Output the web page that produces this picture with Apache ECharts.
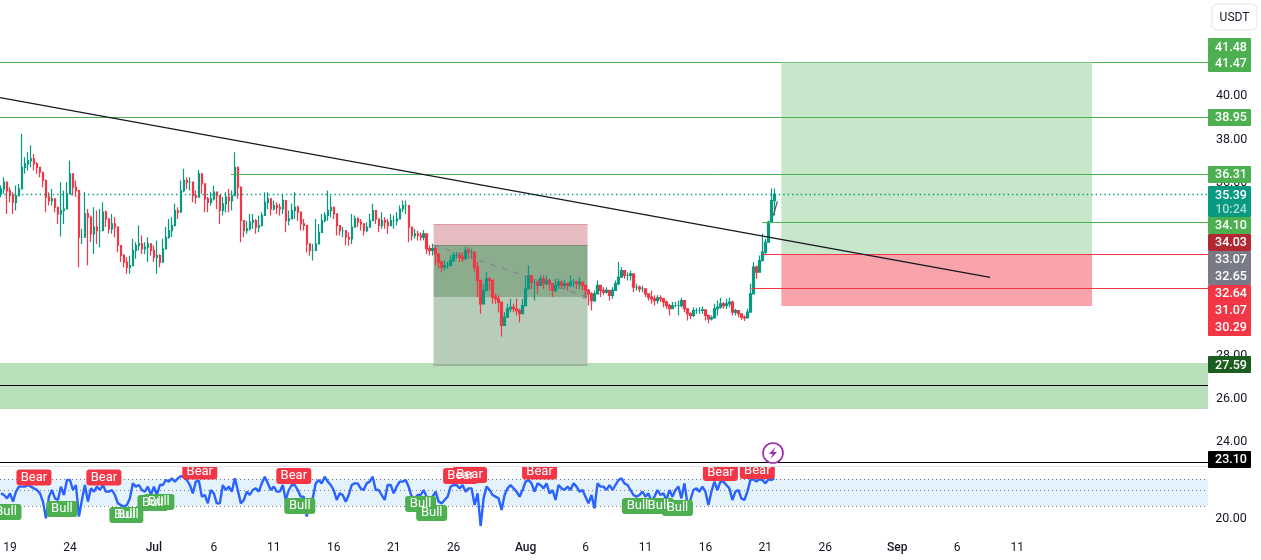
<!DOCTYPE html>
<html><head><meta charset="utf-8">
<style>html,body{margin:0;padding:0;background:#fff}#c{width:1261px;height:560px}</style>
<script src="https://cdn.jsdelivr.net/npm/echarts@6/dist/echarts.min.js"></script></head>
<body><div id="c"></div>
<script>
const closes=[35.63,35.94,35.55,35.32,35.01,35.32,35.63,36.63,36.79,36.94,37.02,36.79,36.63,36.40,36.02,35.25,35.09,35.17,34.78,34.47,
34.63,34.70,35.40,36.33,35.71,35.55,33.39,33.39,34.47,34.32,33.55,33.86,33.70,33.70,34.55,34.24,33.78,34.01,33.86,33.01,
32.54,32.24,32.00,32.08,32.78,33.01,33.08,32.85,32.93,33.08,32.78,32.47,32.54,32.24,32.85,33.39,33.70,33.93,34.63,34.55,
35.55,36.02,35.94,35.94,35.32,35.25,36.33,35.86,35.17,35.01,35.17,35.48,35.32,34.63,34.94,35.25,35.09,35.32,36.63,35.71,
34.16,33.70,33.78,34.09,34.16,33.86,33.93,34.40,35.01,35.17,34.70,34.86,34.78,34.70,35.09,34.16,34.24,34.63,34.78,34.55,
34.01,33.93,33.08,32.78,32.78,33.08,33.62,34.16,34.40,34.63,34.78,34.47,33.93,33.70,33.70,33.39,33.32,33.86,34.24,34.09,
34.01,33.70,33.86,34.16,34.63,34.24,33.93,34.16,34.09,33.93,34.16,34.16,34.24,34.70,34.86,34.86,33.86,33.47,33.55,33.47,33.39,
33.55,32.86,32.78,32.86,32.62,32.24,32.01,32.08,32.08,32.31,32.55,32.55,32.47,32.39,32.78,32.70,32.70,32.01,31.39,30.31,
30.93,31.47,31.39,30.62,30.54,30.39,29.31,29.69,30.08,30.15,30.08,30.00,29.85,30.23,31.00,31.62,31.31,31.31,31.16,31.47,
31.24,31.39,31.24,30.93,31.16,31.31,31.16,31.24,31.16,31.31,31.31,31.24,31.31,31.16,30.93,30.77,30.46,30.77,31.16,30.93,
30.85,30.93,30.70,30.93,31.24,31.54,31.85,31.62,31.62,31.70,31.08,31.08,31.00,31.00,30.77,30.62,30.54,30.46,30.59,30.54,
30.39,30.23,30.08,30.23,30.23,30.23,30.46,30.08,29.85,29.77,30.00,30.00,30.00,30.03,29.77,29.61,29.66,30.08,30.15,30.31,
30.23,30.31,30.39,29.92,30.00,29.85,29.69,29.66,29.92,30.77,32.01,31.77,32.31,32.70,33.16,34.09,35.09,35.39];
const opens=[35.40,35.63,35.94,35.55,35.32,35.01,35.32,35.63,36.63,36.79,36.94,37.02,36.79,36.63,36.40,36.02,35.25,35.09,35.17,34.78,
34.47,34.63,34.70,35.40,36.33,35.71,35.55,33.39,33.39,34.47,34.32,33.55,33.86,33.70,33.70,34.55,34.24,33.78,34.01,33.86,
33.01,32.54,32.24,32.00,32.08,32.78,33.01,33.08,32.85,32.93,33.08,32.78,32.47,32.54,32.24,32.85,33.39,33.70,33.93,34.63,
34.55,35.55,36.02,35.94,35.94,35.32,35.25,36.33,35.86,35.17,35.01,35.17,35.48,35.32,34.63,34.94,35.25,35.09,35.32,36.63,
35.71,34.16,33.70,33.78,34.09,34.16,33.86,33.93,34.40,35.01,35.17,34.70,34.86,34.78,34.70,35.09,34.16,34.24,34.63,34.78,
34.55,34.01,33.93,33.08,32.78,32.78,33.08,33.62,34.16,34.40,34.63,34.78,34.47,33.93,33.70,33.70,33.39,33.32,33.86,34.24,
34.09,34.01,33.70,33.86,34.16,34.63,34.24,33.93,34.16,34.09,33.93,34.16,34.16,34.24,34.70,34.86,34.86,33.86,33.47,33.55,33.47,
33.39,33.55,32.86,32.78,32.86,32.62,32.24,32.01,32.08,32.08,32.31,32.55,32.55,32.47,32.39,32.78,32.70,32.70,32.01,31.39,
30.31,30.93,31.47,31.39,30.62,30.54,30.39,29.31,29.69,30.08,30.15,30.08,30.00,29.85,30.23,31.00,31.62,31.31,31.31,31.16,
31.47,31.24,31.39,31.24,30.93,31.16,31.31,31.16,31.24,31.16,31.31,31.31,31.24,31.31,31.16,30.93,30.77,30.46,30.77,31.16,
30.93,30.85,30.93,30.70,30.93,31.24,31.54,31.85,31.62,31.62,31.70,31.08,31.08,31.00,31.00,30.77,30.62,30.54,30.46,30.59,
30.54,30.39,30.23,30.08,30.23,30.23,30.23,30.46,30.08,29.85,29.77,30.00,30.00,30.00,30.03,29.77,29.61,29.66,30.08,30.15,
30.31,30.23,30.31,30.39,29.92,30.00,29.85,29.69,29.66,29.92,30.77,32.01,31.77,32.31,32.70,33.16,34.09,35.09];
const highs=[35.79,36.17,35.86,35.71,35.48,35.79,35.86,38.18,37.10,37.33,37.64,37.25,36.87,36.63,36.33,35.86,35.48,35.63,35.17,34.78,
35.94,35.55,35.94,36.94,35.94,36.02,33.78,33.78,35.48,34.70,34.40,34.78,34.63,34.70,35.01,34.63,34.24,34.47,34.32,33.39,
32.93,32.62,32.47,32.54,33.32,33.16,33.93,33.47,33.16,33.39,33.08,33.01,33.24,32.62,33.32,33.86,34.24,34.32,34.94,34.78,
36.02,36.56,36.17,36.17,35.79,35.55,36.51,36.09,35.55,35.25,35.48,35.79,35.48,35.25,35.25,35.48,35.63,35.55,37.33,36.09,
34.40,34.16,34.16,34.47,34.47,34.24,34.40,34.55,35.48,35.48,35.01,35.09,35.01,34.94,35.40,34.94,34.63,34.94,35.48,34.86,
34.24,34.24,33.55,33.08,33.08,34.24,34.01,34.47,34.55,35.55,35.32,34.63,34.24,33.93,33.86,33.70,33.62,34.47,34.40,34.32,
34.24,33.93,34.09,34.47,34.94,34.55,34.24,34.55,34.32,34.24,34.47,34.40,34.55,34.86,35.09,35.09,34.70,33.70,33.78,33.70,33.62,
33.73,33.40,33.01,33.09,33.01,32.55,32.31,32.31,32.24,32.55,32.70,32.70,32.70,32.70,32.96,32.93,32.86,32.31,32.24,30.77,
31.24,31.77,31.54,31.00,30.77,30.70,29.77,29.92,30.31,30.54,30.31,30.54,30.08,30.54,31.62,32.08,31.54,31.47,31.39,31.62,
31.62,31.62,31.47,31.16,31.47,31.47,31.39,31.42,31.31,31.62,31.47,31.39,31.54,31.31,31.16,31.00,30.85,30.93,31.39,31.16,
31.08,31.08,30.93,31.08,31.39,32.24,32.01,31.85,31.77,31.85,31.47,31.24,31.16,31.16,30.93,30.77,30.93,30.70,30.70,30.70,
30.59,30.46,30.31,30.39,30.39,30.46,30.59,30.46,30.08,29.92,30.15,30.12,30.15,30.19,29.92,29.72,29.77,30.31,30.46,30.59,
30.39,30.54,30.59,30.46,30.08,30.00,29.77,29.77,30.08,31.24,32.24,32.08,32.55,33.55,33.32,34.17,35.65,35.65];
const lows=[35.25,35.40,34.47,35.01,34.47,34.63,35.32,36.02,36.33,36.48,36.63,36.48,36.33,36.17,35.71,34.55,34.86,34.86,34.55,34.01,
33.42,34.01,34.94,35.86,35.32,35.25,32.00,33.08,33.70,32.08,33.16,32.62,33.08,32.93,34.16,33.86,33.55,33.55,33.39,32.70,
32.24,32.00,31.70,31.70,32.47,32.39,32.78,32.62,32.62,32.24,32.54,32.24,31.70,32.00,32.54,32.93,33.32,33.39,34.09,34.24,
35.01,35.48,35.63,35.55,35.01,34.94,35.79,35.40,34.55,34.55,34.86,35.09,34.70,34.01,34.40,34.55,34.55,34.63,35.86,35.17,
33.16,33.39,33.55,33.70,33.78,33.55,33.62,34.01,34.47,34.70,34.40,34.63,34.47,34.40,34.47,33.62,33.93,34.24,34.24,34.16,
33.70,33.70,32.70,32.54,32.31,32.85,33.32,33.78,34.09,34.16,34.32,34.24,33.47,33.47,33.39,33.01,33.01,33.08,33.93,33.86,
33.70,33.47,33.62,33.86,34.24,34.01,33.62,33.78,33.78,33.55,33.93,33.78,33.93,34.24,34.55,34.47,33.16,33.24,33.32,33.24,33.24,
33.24,32.62,32.55,32.55,32.08,31.93,31.77,31.85,31.93,32.08,32.24,32.39,32.24,32.24,32.39,32.39,32.39,31.77,30.62,29.85,
30.54,31.16,30.93,30.31,30.31,29.92,28.80,29.31,29.77,29.92,29.92,29.77,29.46,29.92,30.54,31.31,31.00,30.46,30.77,31.16,
31.00,31.16,30.93,30.62,30.85,31.00,31.00,31.00,30.93,31.08,31.08,31.00,31.00,30.93,30.54,30.23,30.00,30.39,30.85,30.62,
30.70,30.77,30.46,30.54,31.00,31.16,31.62,31.47,31.39,31.39,30.85,30.93,30.85,30.85,30.62,30.46,30.31,30.23,30.31,30.39,
30.15,30.08,29.77,30.08,30.15,29.77,30.15,29.92,29.54,29.61,29.69,29.85,29.85,29.85,29.54,29.41,29.54,29.92,29.77,30.08,
30.08,30.08,30.15,29.77,29.77,29.69,29.57,29.51,29.69,30.15,31.24,31.47,31.77,32.62,32.62,33.16,34.07,34.40];
const oscillator=[51.3,48,41.3,51.3,34.7,54.7,64.7,64.7,64.7,68,64.7,61.3,58,51.3,34.7,1.3,44.7,58,41.3,38,
64.7,48,78,78,58,68,4.7,38,68,34.7,61.3,54.7,64.7,58,68,54.7,54.7,58,48,31.3,
28,24.7,28,41.3,71.3,64.7,68,58,54.7,64.7,48,64.7,48,68,68,78,74.7,81.3,74.7,81.3,
86,83.3,78,68,51.3,74.7,76.7,44.7,48,31.3,58,51.3,31.3,31.3,68,58,64.7,54.7,81.3,58,
31.3,38,54.7,48,58,61.3,54.7,71.3,84.7,71.3,58,64.7,54.7,54.7,68,38,58,68,68,58,
44.7,44.7,4.7,38,41.3,71.3,78,71.3,84.7,74.7,68,58,38,51.3,48,34.7,48,68,71.3,71.3,
61.3,58,71.3,74.7,84.7,58,58,48,38,68,68,51.3,64.7,74.7,
74.7,78,64.7,44.7,41.3,48,48,58,44.7,41.3,44.7,54.7,34.7,31.3,38,44.7,64.7,68,68,61.3,
68,54.7,61.3,61.3,28,51.3,-14,41.3,64.7,58,48,44.7,41.3,18,48,61.3,68,61.3,54.7,44.7,
58,74.7,78,71.3,54.7,71.3,68,61.3,71.3,51.3,58,38,68,61.3,58,64.7,58,71.3,64.7,54.7,
58,44.7,31.3,48,21.3,71.3,64.7,64.7,58,68,58,68,78,81.3,71.3,68,58,48,44.7,48,
54.7,44.7,51.3,34.7,44.7,58,48,51.3,38,58,44.7,58,64.7,41.3,71.3,31.3,38,58,61.3,54.7,
64.7,54.7,28,54.7,74.7,58,74.7,74.7,68,61.3,38,54.7,58,41.3,38,54.7,78,79.3,74.7,79.3,
78,71.3,79.3,78,81.3];
const bearDays=[-10,-4.17,3.83,11.67,25.58,26.33,32.17,47.25,50.33];
const bearVals=[83,83,95,86,86,88,95,92,96];
const bullDays=[-12.33,-7.67,-2.42,-2.17,-0.08,0.42,12.17,22.25,23.17,40.33,42.08,43.67];
const bullVals=[14,20,8,8,32,34,26,30,12,26,26,22];
const tickDays=[-12,-7,0,5,10,15,20,25,31,36,41,46,51,56,62,67,72];
const tickNames=['19','24','Jul','6','11','16','21','26','Aug','6','11','16','21','26','Sep','6','11'];
const priceTicks=[24,26,28,36,38,40];
const tagTexts=['41.48','41.47','38.95','36.31','35.39','10:24','34.10','34.03','33.07','32.65','32.64','31.07','30.29','27.59','23.10'];

const FONT='Roboto, "Liberation Sans", sans-serif';
const DAY0=-12.75, DAYN=87.917, START=DAY0;
const AXMIN=DAY0-1/12;
const candleData=closes.map((c,i)=>[START+i*0.25,opens[i],c,lows[i],highs[i]]);
const oscData=oscillator.map((v,i)=>[START+i*0.25,v]);
const area=(x1,x2,y1,y2,color)=>[{xAxis:x1,yAxis:y1,itemStyle:{color:color,borderWidth:0,opacity:1}},{xAxis:x2,yAxis:y2}];
const seg=(x1,y1,x2,y2,color,width,type,op)=>[{coord:[x1,y1],lineStyle:{color:color,width:width,type:type||'solid',opacity:op||1}},{coord:[x2,y2]}];

const GREEN='#4caf50',RED='#f23645',INK='#131722';

// right-hand price tags: slot centres (pixels of the axis column)
const tagCenters=[47.5,63.5,117.5,174.5,195.5,209.5,226,243,260,277,294,311,328,365.5,459.5];
const tagBlocks=[[38,34,GREEN],[109,17,GREEN],[166,17,GREEN],[186,31,'#089981'],[217,17,GREEN],[234,17,'#b22833'],[251,34,'#787b86'],[285,51,RED],[356,17,'#1b5e20'],[451,17,'#000000']];
const graphics=[];
tagBlocks.forEach(b=>graphics.push({type:'rect',z:100,shape:{x:1208,y:b[0],width:43,height:b[1],r:1},style:{fill:b[2]}}));
tagTexts.forEach((t,i)=>graphics.push({type:'text',z:101,x:1231,y:tagCenters[i],style:{text:t,font:'500 12.5px '+FONT,fill:t==='10:24'?'rgba(255,255,255,0.65)':'#fff',textAlign:'center',textVerticalAlign:'middle'}}));
graphics.push({type:'text',z:101,x:1231,y:519,style:{text:'20.00',font:'12.5px '+FONT,fill:INK,textAlign:'center',textVerticalAlign:'middle'}});
graphics.push({type:'rect',z:101,shape:{x:1212,y:4,width:45,height:26,r:5},style:{fill:'#fff',stroke:'#e0e3eb',lineWidth:1}});
graphics.push({type:'text',z:102,x:1234.5,y:18,style:{text:'USDT',font:'12px '+FONT,fill:INK,textAlign:'center',textVerticalAlign:'middle'}});
graphics.push({type:'rect',z:90,shape:{x:0,y:463,width:1208,height:3.5},style:{fill:'#fff'}});
graphics.push({type:'line',z:91,shape:{x1:0,y1:466.5,x2:1208,y2:466.5},style:{stroke:'#e0e3eb',lineWidth:1}});
graphics.push({type:'circle',z:95,shape:{cx:773,cy:453,r:10},style:{fill:'#fff',stroke:'#9c27b0',lineWidth:1.6}});
graphics.push({type:'polygon',z:96,shape:{points:[[775.5,447],[769,454],[772.7,454],[770.5,459],[777,452],[773.3,452]]},style:{fill:'#9c27b0'}});

// bubble plates sit under a separate text-only layer so overlapping words stay visible
const plate=(text,color,w)=>({show:true,position:'inside',formatter:text,color:'rgba(0,0,0,0)',fontFamily:FONT,fontSize:13,backgroundColor:color,borderRadius:3,width:w,height:16,lineHeight:16,align:'center',verticalAlign:'middle'});
const word=(text)=>({show:true,position:'inside',formatter:text,color:'#fff',fontFamily:FONT,fontSize:13,lineHeight:16,align:'center',verticalAlign:'middle'});
const marks=(name,days,vals,z,label)=>({type:'scatter',name:name,xAxisIndex:1,yAxisIndex:1,z:z,symbolSize:1,clip:false,
  data:days.map((d,i)=>[d,vals[i]]),itemStyle:{color:'rgba(0,0,0,0)',opacity:1},label:label});

const option={
 animation:false,backgroundColor:'#fff',
 grid:[{left:-1,right:53,top:0,bottom:25},{left:-1,right:53,top:460,height:70}],
 xAxis:[
  {type:'value',gridIndex:0,min:AXMIN,max:DAYN,splitLine:{show:false},axisLine:{show:false},axisTick:{show:false},
   axisLabel:{show:true,margin:7,customValues:tickDays,fontFamily:FONT,fontSize:12,color:INK,
     formatter:v=>{const n=tickNames[tickDays.indexOf(v)];return /[A-Z]/.test(n)?'{b|'+n+'}':n;},
     rich:{b:{fontFamily:FONT,fontSize:12,fontWeight:500,color:INK}}}},
  {type:'value',gridIndex:1,min:AXMIN,max:DAYN,show:false}
 ],
 yAxis:[
  {type:'value',gridIndex:0,position:'right',min:19.606,max:44.375,splitLine:{show:false},axisLine:{show:false},axisTick:{show:false},
   axisLabel:{customValues:priceTicks,margin:8,verticalAlign:'top',lineHeight:3.5,fontFamily:FONT,fontSize:12.5,color:INK,formatter:v=>v.toFixed(2)}},
  {type:'value',gridIndex:1,min:-22,max:118,show:false}
 ],
 graphic:graphics,
 series:[
  {type:'line',xAxisIndex:0,yAxisIndex:0,z:1,data:[],silent:true,
   markArea:{silent:true,data:[
    area(AXMIN,DAYN,27.57,25.44,'#b9dfba'),
    area(52.33,78.25,41.50,32.62,'#c8e6c9'),
    area(52.33,78.25,32.62,30.21,'#f9a3aa'),
    area(23.33,36.17,34.00,33.03,'#e6bcc1'),
    area(23.33,36.17,33.03,30.62,'#8bad8e'),
    area(23.33,36.17,30.62,27.48,'#b7ccb9')
   ]}},
  {type:'line',xAxisIndex:1,yAxisIndex:1,z:1,data:[],silent:true,
   markArea:{silent:true,data:[area(AXMIN,DAYN,80,26,'#e3f2fd')]},
   markLine:{silent:true,symbol:'none',label:{show:false},data:[
    seg(AXMIN,80,DAYN,80,'#787b86',1,[1,3]),seg(AXMIN,58,DAYN,58,'#787b86',1,[1,3]),seg(AXMIN,26,DAYN,26,'#787b86',1,[1,3])]}},
  {type:'candlestick',name:'Price',xAxisIndex:0,yAxisIndex:0,z:3,barWidth:1.8,clip:true,data:candleData,
   itemStyle:{color:'#089981',color0:RED,borderColor:'#089981',borderColor0:RED,borderWidth:1.2}},
  {type:'line',xAxisIndex:0,yAxisIndex:0,z:4,data:[],silent:true,
   markLine:{silent:true,symbol:'none',label:{show:false},data:[
    seg(AXMIN,41.47,DAYN,41.47,GREEN,1),
    seg(AXMIN,38.95,DAYN,38.95,GREEN,1),
    seg(6.42,36.31,DAYN,36.31,GREEN,1),
    seg(AXMIN,35.39,DAYN,35.39,'#089981',1.4,[1.4,3]),
    seg(50.75,34.10,DAYN,34.10,GREEN,1),
    seg(50.75,32.62,DAYN,32.62,RED,1),
    seg(49.83,31.04,DAYN,31.04,RED,1),
    seg(AXMIN,26.55,DAYN,26.55,'#000',1),
    seg(AXMIN,22.99,DAYN,22.99,'#000',1.2),
    seg(23.33,34.00,36.17,34.00,'#dc9aa3',1),
    seg(23.33,33.03,36.17,33.03,'#7f8d7f',1),
    seg(23.33,27.48,36.17,27.48,'#8fae8f',1.5),
    seg(52.33,41.50,78.25,41.50,'#81c784',1),
    seg(AXMIN,39.86,69.75,31.53,INK,1.2),
    seg(51.67,34.40,52.0,35.05,'#555',1.2)
   ]}},
  {type:'line',xAxisIndex:0,yAxisIndex:0,z:4,data:[],silent:true,
   markLine:{silent:true,symbol:['none','arrow'],symbolSize:5,label:{show:false},data:[
    seg(23.33,33.03,36.17,30.62,'#787b86',1,[6,6],0.8)]}},
  {type:'line',name:'Oscillator',xAxisIndex:1,yAxisIndex:1,z:5,data:oscData,symbol:'none',showSymbol:false,smooth:false,
   lineStyle:{color:'#2962ff',width:2.4}},
  marks('BearPlate',bearDays,bearVals,6,plate('Bear',RED,35)),
  marks('BullPlate',bullDays,bullVals,6,plate('Bull',GREEN,31)),
  marks('Bear',bearDays,bearVals,7,word('Bear')),
  marks('Bull',bullDays,bullVals,7,word('Bull'))
 ]
};
echarts.init(document.getElementById('c')).setOption(option);
</script></body></html>
